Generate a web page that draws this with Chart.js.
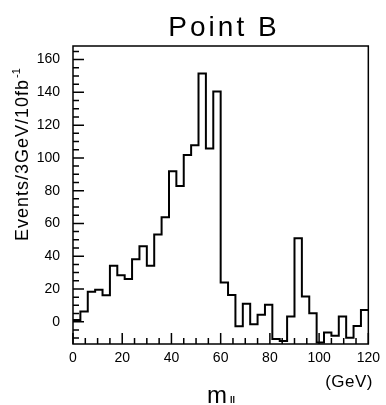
<!DOCTYPE html>
<html>
<head>
<meta charset="utf-8">
<script src="https://cdn.jsdelivr.net/npm/chart.js@4.4.1/dist/chart.umd.min.js"></script>
<style>
  html, body { margin: 0; padding: 0; background: #fff; overflow: hidden; }
</style>
</head>
<body>
<canvas id="mllChart" width="386" height="405"></canvas>
<script>
// lower edge of each 3 GeV bin
const binLow = [0, 3, 6, 9, 12, 15, 18, 21, 24, 27, 30, 33, 36, 39, 42, 45, 48, 51, 54, 57,
                60, 63, 66, 69, 72, 75, 78, 81, 84, 87, 90, 93, 96, 99, 102, 105, 108, 111, 114, 117];
const binHigh = 120;
// events per bin (after subtraction, can go negative)
const events = [1, 6.2, 18.3, 19.5, 16.1, 34.2, 28.3, 26.1, 38.2, 46.1, 34.1, 53.3, 63.8, 91.9, 82.8, 101.8, 107.7, 151.5, 105.7, 140.5,
                24, 16.3, -2.8, 11, -1.6, 4.2, 10.3, -10.6, -11.7, 3.2, 51, 15.4, 5.2, -12.7, -6.6, -8.6, 3.2, -9.8, -2.6, 7.1];
const xTicks = [0, 20, 40, 60, 80, 100, 120];
const yTicks = [0, 20, 40, 60, 80, 100, 120, 140, 160];
// inner tick marks every 5 units
const xMarks = [0, 5, 10, 15, 20, 25, 30, 35, 40, 45, 50, 55, 60, 65, 70, 75, 80, 85, 90, 95, 100, 105, 110, 115, 120];
const yMarks = [-10, -5, 0, 5, 10, 15, 20, 25, 30, 35, 40, 45, 50, 55, 60, 65, 70, 75, 80, 85,
                90, 95, 100, 105, 110, 115, 120, 125, 130, 135, 140, 145, 150, 155, 160, 165];

// step outline: one point per bin edge, last bin closed at the upper edge
const histPoints = binLow.map((x, i) => ({ x: x, y: events[i] }));
histPoints.push({ x: binHigh, y: events[events.length - 1] });

const frameAndLabels = {
    id: 'frameAndLabels',
    afterDatasetsDraw(chart) {
        const c = chart.ctx;
        const a = chart.chartArea;
        const xs = chart.scales.x;
        const ys = chart.scales.y;
        c.save();
        c.strokeStyle = '#000';
        c.lineWidth = 1.5;
        c.beginPath();
        xMarks.forEach((v) => {
            const px = xs.getPixelForValue(v);
            const len = v % 20 === 0 ? 11 : 6;
            c.moveTo(px, a.bottom);
            c.lineTo(px, a.bottom - len);
        });
        yMarks.forEach((v) => {
            const py = ys.getPixelForValue(v);
            const len = v % 20 === 0 ? 11 : 6;
            c.moveTo(a.left, py);
            c.lineTo(a.left + len, py);
        });
        c.stroke();
        c.strokeRect(a.left, a.top, a.right - a.left, a.bottom - a.top);
        c.restore();
    },
    afterDraw(chart) {
        const c = chart.ctx;
        c.save();
        c.fillStyle = '#000';
        // title
        c.font = '28px "Liberation Sans", Arial, sans-serif';
        c.letterSpacing = '3px';
        c.textAlign = 'center';
        c.textBaseline = 'alphabetic';
        c.fillText('Point B', 224, 36);

        // y axis title with superscript
        c.save();
        c.translate(28, 241);
        c.rotate(-Math.PI / 2);
        c.textAlign = 'left';
        c.letterSpacing = '1px';
        c.font = '18px "Liberation Sans", Arial, sans-serif';
        const main = 'Events/3GeV/10fb';
        c.fillText(main, 0, 0);
        const w = c.measureText(main).width;
        c.letterSpacing = '0px';
        c.font = '11px "Liberation Sans", Arial, sans-serif';
        c.fillText('-1', w + 1, -8);
        c.restore();

        // x axis unit and title
        c.letterSpacing = '0.5px';
        c.textAlign = 'right';
        c.font = '17px "Liberation Sans", Arial, sans-serif';
        c.fillText('(GeV)', 373, 387);
        c.textAlign = 'left';
        c.letterSpacing = '0px';
        c.font = '24px "Liberation Sans", Arial, sans-serif';
        c.fillText('m', 207, 403);
        c.font = 'bold 9px "Liberation Sans", Arial, sans-serif';
        c.fillText('ll', 230, 403);
        c.restore();
    }
};

const ctx = document.getElementById('mllChart').getContext('2d');
const mllChart = new Chart(ctx, {
    type: 'line',
    data: {
        datasets: [{
            label: 'Point B',
            data: histPoints,
            stepped: 'before',
            borderColor: '#000',
            borderWidth: 2,
            pointRadius: 0,
            fill: false
        }]
    },
    options: {
        responsive: false,
        animation: false,
        layout: { padding: { top: 46, right: 13, left: 0, bottom: 0 } },
        plugins: {
            legend: { display: false },
            tooltip: { enabled: false },
            title: { display: false }
        },
        scales: {
            x: {
                type: 'linear',
                min: 0,
                max: 120,
                afterBuildTicks: (scale) => { scale.ticks = xTicks.map(v => ({ value: v })); },
                afterFit: (scale) => { scale.height = 61; },
                grid: { display: false, drawTicks: false },
                border: { display: false },
                ticks: {
                    color: '#000',
                    padding: 6,
                    maxRotation: 0,
                    font: { size: 14, family: '"Liberation Sans", Arial, sans-serif' }
                }
            },
            y: {
                type: 'linear',
                min: -13.6,
                max: 168.3,
                afterBuildTicks: (scale) => { scale.ticks = yTicks.map(v => ({ value: v })); },
                afterFit: (scale) => { scale.width = 73; },
                grid: { display: false, drawTicks: false },
                border: { display: false },
                ticks: {
                    color: '#000',
                    padding: 13,
                    font: { size: 14, family: '"Liberation Sans", Arial, sans-serif' }
                }
            }
        }
    },
    plugins: [frameAndLabels]
});
</script>
</body>
</html>
